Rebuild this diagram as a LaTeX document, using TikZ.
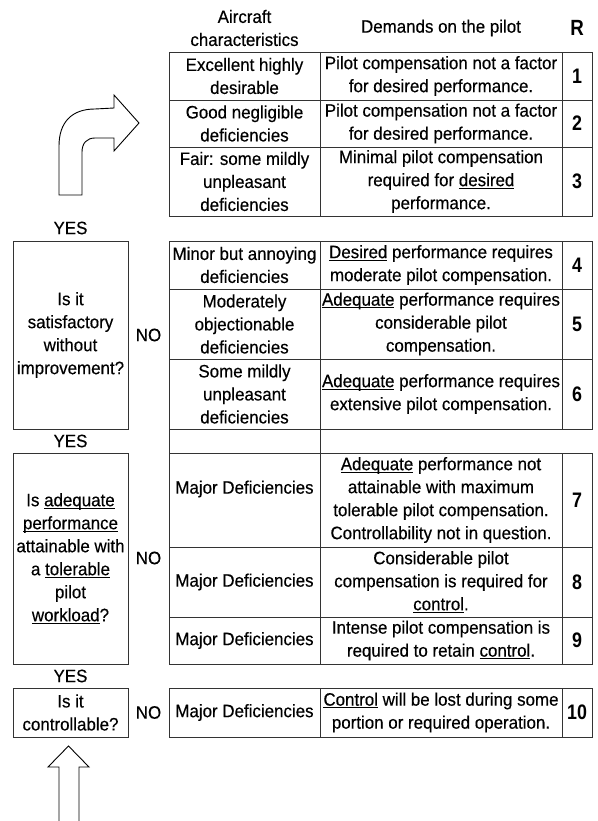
\documentclass[tikz,border=0pt]{standalone}
\usepackage{fontspec}
\setmainfont[FakeStretch=0.94, FakeBold=0.35]{Liberation Sans}
\newfontfamily\numfont[FakeStretch=0.85]{Liberation Sans}
\newcommand\uln[1]{\setbox0\hbox{#1}\rlap{\rule[-2.6pt]{\wd0}{0.9pt}}\copy0\relax}
\begin{document}
\begin{tikzpicture}[x=1pt,y=-1pt,
  every node/.style={font=\fontsize{18}{23}\selectfont, align=center, inner sep=1pt},
  cell/.style={draw=black!80, line width=0.8pt, inner sep=1pt},
  qbox/.style={draw=black!80, line width=0.8pt, inner sep=1pt},
  num/.style={font=\numfont\fontsize{21}{23}\selectfont\bfseries},
  lbl/.style={inner sep=0pt},
  arr/.style={draw=black, line width=0.9pt, line join=miter}
]
\useasboundingbox (0,0) rectangle (597,821);

% header
\node[lbl] (hA) at (244.5,28) {Aircraft\\characteristics};
\node[lbl] (hB) at (441,28) {Demands on the pilot};
\node[lbl, font=\numfont\fontsize{22}{23}\selectfont\bfseries] (hR) at (577,28) {R};

% row 1
\node[cell, minimum width=151, minimum height=48] (a1) at (244.5,76) {Excellent highly\\desirable};
\node[cell, minimum width=242, minimum height=48] (b1) at (441,76) {Pilot compensation not a factor\\for desired performance.};
\node[cell, num, minimum width=30, minimum height=48] (r1) at (577,76) {1};
% row 2
\node[cell, minimum width=151, minimum height=47] (a2) at (244.5,123.5) {Good negligible\\deficiencies};
\node[cell, minimum width=242, minimum height=47] (b2) at (441,123.5) {Pilot compensation not a factor\\for desired performance.};
\node[cell, num, minimum width=30, minimum height=47] (r2) at (577,123.5) {2};
% row 3
\node[cell, minimum width=151, minimum height=69] (a3) at (244.5,181.5) {Fair: some mildly\\unpleasant\\deficiencies};
\node[cell, minimum width=242, minimum height=69] (b3) at (441,181.5) {Minimal pilot compensation\\required for \uln{desired}\\performance.};
\node[cell, num, minimum width=30, minimum height=69] (r3) at (577,181.5) {3};

% row 4
\node[cell, minimum width=151, minimum height=48] (a4) at (244.5,265) {Minor but annoying\\deficiencies};
\node[cell, minimum width=242, minimum height=48] (b4) at (441,265) {\uln{Desired} performance requires\\moderate pilot compensation.};
\node[cell, num, minimum width=30, minimum height=48] (r4) at (577,265) {4};
% row 5
\node[cell, minimum width=151, minimum height=70] (a5) at (244.5,324) {Moderately\\objectionable\\deficiencies};
\node[cell, minimum width=242, minimum height=70] (b5) at (441,324) {\uln{Adequate} performance requires\\considerable pilot\\compensation.};
\node[cell, num, minimum width=30, minimum height=70] (r5) at (577,324) {5};
% row 6
\node[cell, minimum width=151, minimum height=70] (a6) at (244.5,394) {Some mildly\\unpleasant\\deficiencies};
\node[cell, minimum width=242, minimum height=70] (b6) at (441,394) {\uln{Adequate} performance requires\\extensive pilot compensation.};
\node[cell, num, minimum width=30, minimum height=70] (r6) at (577,394) {6};
% empty row
\node[cell, minimum width=151, minimum height=24] (ae) at (244.5,441) {};

% row 7
\node[cell, minimum width=151, minimum height=94] (a7) at (244.5,500) {};
\node[lbl] (a7t) at (244.5,489) {Major Deficiencies};
\node[cell, minimum width=242, minimum height=94] (b7) at (441,500) {\uln{Adequate} performance not\\attainable with maximum\\tolerable pilot compensation.\\Controllability not in question.};
\node[cell, num, minimum width=30, minimum height=94] (r7) at (577,500) {7};
% row 8
\node[cell, minimum width=151, minimum height=70] (a8) at (244.5,582) {Major Deficiencies};
\node[cell, minimum width=242, minimum height=70] (b8) at (441,582) {Considerable pilot\\compensation is required for\\\uln{control}.};
\node[cell, num, minimum width=30, minimum height=70] (r8) at (577,582) {8};
% row 9
\node[cell, minimum width=151, minimum height=47] (a9) at (244.5,640.5) {Major Deficiencies};
\node[cell, minimum width=242, minimum height=47] (b9) at (441,640.5) {Intense pilot compensation is\\required to retain \uln{control}.};
\node[cell, num, minimum width=30, minimum height=47] (r9) at (577,640.5) {9};

% row 10
\node[cell, minimum width=151, minimum height=49] (a10) at (244.5,712.5) {Major Deficiencies};
\node[cell, minimum width=242, minimum height=49] (b10) at (441,712.5) {\uln{Control} will be lost during some\\portion or required operation.};
\node[cell, num, minimum width=30, minimum height=49] (r10) at (577,712.5) {10};

% question boxes
\node[qbox, minimum width=115, minimum height=188] (q1) at (70.5,335) {Is it\\satisfactory\\without\\improvement?};
\node[qbox, minimum width=115, minimum height=211] (q2) at (70.5,558.5) {Is \uln{adequate}\\\uln{performance}\\attainable with\\a \uln{tolerable}\\pilot\\\uln{workload}?};
\node[qbox, minimum width=115, minimum height=49] (q3) at (70.5,712.5) {Is it\\controllable?};

% YES / NO labels
\node[lbl] (y1) at (70.5,228) {YES};
\node[lbl] (y2) at (70.5,441) {YES};
\node[lbl] (y3) at (70.5,676) {YES};
\node[lbl] (n1) at (148.5,335) {NO};
\node[lbl] (n2) at (148.5,558) {NO};
\node[lbl] (n3) at (148.5,712.5) {NO};

% curved block arrow
\draw[arr] (59,195) -- (59,146) .. controls (59,122) and (72,109) .. (95,109) -- (114,108) -- (114,95) -- (139,123) -- (114,151) -- (114,138) -- (95,138) .. controls (87,138) and (82,143) .. (82,152) -- (82,195) -- cycle;

% up block arrow
\draw[arr] (59,823) -- (59,767) -- (48,767) -- (68.5,746) -- (89,767) -- (79,767) -- (79,823);
\end{tikzpicture}
\end{document}
